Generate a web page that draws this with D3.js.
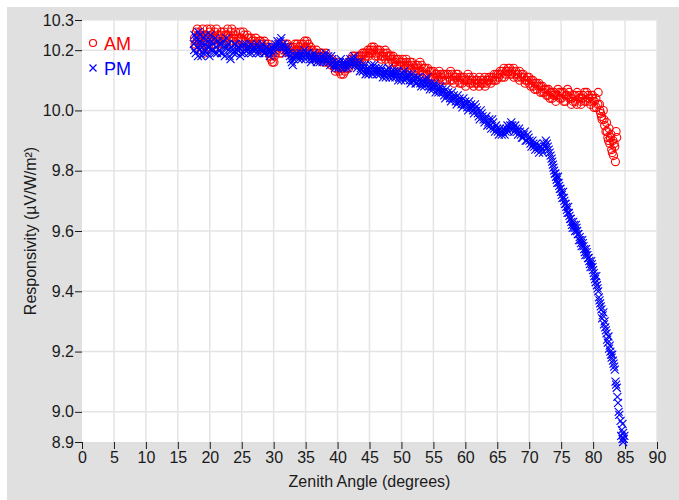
<!DOCTYPE html>
<html lang="en">
<head>
<meta charset="utf-8">
<script src="https://d3js.org/d3.v7.min.js"></script>
<style type="text/css">
body {
	margin: 0;
	background: #fff;
	font-family: "Liberation Sans", Arial, sans-serif;
}
.tick text {
	font-size: 16px;
	fill: #1a1a1a;
}
.tick line {
	stroke: #1a1a1a;
}
</style>
</head>
<body>
<script type="text/javascript">

// zenith angle (degrees), responsivity (uV/W/m2)
var amPoints = [
	[17.6,10.24],[17.7,10.22],[17.9,10.26],[18.0,10.23],[18.2,10.25],[18.4,10.22],[18.5,10.26],[18.7,10.24],
	[18.9,10.27],[19.0,10.23],[19.2,10.19],[19.4,10.25],[19.6,10.27],[19.8,10.24],[20.0,10.26],[20.2,10.23],
	[20.4,10.25],[20.6,10.22],[20.8,10.26],[21.0,10.24],[21.3,10.25],[21.5,10.23],[21.8,10.26],[22.0,10.24],
	[22.3,10.22],[22.5,10.25],[22.8,10.27],[23.0,10.24],[23.3,10.26],[23.6,10.23],[23.9,10.25],[24.2,10.22],
	[24.5,10.24],[24.8,10.26],[25.1,10.23],[25.4,10.25],[25.7,10.22],[26.0,10.24],[26.3,10.21],[26.6,10.23],
	[26.9,10.22],[27.2,10.24],[27.5,10.21],[27.8,10.23],[28.1,10.22],[28.4,10.20],[28.7,10.22],[29.0,10.21],
	[29.3,10.19],[29.6,10.17],[29.8,10.16],[30.1,10.18],[30.4,10.20],[30.7,10.22],[31.0,10.21],[31.3,10.19],
	[31.6,10.21],[31.9,10.20],[32.2,10.22],[32.5,10.21],[32.8,10.19],[33.1,10.21],[33.4,10.20],[33.7,10.22],
	[34.0,10.21],[34.3,10.19],[34.6,10.22],[34.9,10.21],[35.2,10.23],[35.5,10.20],[35.8,10.21],[36.1,10.19],
	[36.4,10.18],[36.7,10.20],[37.0,10.18],[37.3,10.19],[37.6,10.17],[37.9,10.18],[38.2,10.19],[38.5,10.17],
	[38.8,10.16],[39.1,10.17],[39.4,10.15],[39.7,10.14],[40.0,10.16],[40.3,10.13],[40.6,10.14],[40.9,10.12],
	[41.2,10.15],[41.5,10.14],[41.8,10.16],[42.1,10.17],[42.4,10.16],[42.7,10.18],[43.0,10.17],[43.3,10.16],
	[43.6,10.18],[43.9,10.19],[44.2,10.17],[44.5,10.19],[44.8,10.18],[45.1,10.20],[45.4,10.19],[45.7,10.21],
	[46.0,10.19],[46.3,10.18],[46.6,10.20],[46.9,10.18],[47.2,10.19],[47.5,10.17],[47.8,10.19],[48.1,10.18],
	[48.4,10.17],[48.7,10.18],[49.0,10.16],[49.3,10.17],[49.6,10.15],[49.9,10.16],[50.2,10.17],[50.5,10.15],
	[50.8,10.16],[51.1,10.14],[51.4,10.16],[51.7,10.15],[52.0,10.13],[52.3,10.15],[52.6,10.14],[52.9,10.16],
	[53.2,10.13],[53.5,10.14],[53.8,10.12],[54.1,10.14],[54.4,10.13],[54.7,10.11],[55.0,10.13],[55.3,10.12],
	[55.6,10.11],[55.9,10.13],[56.2,10.11],[56.5,10.12],[56.8,10.10],[57.1,10.12],[57.4,10.11],[57.7,10.13],
	[58.0,10.10],[58.3,10.11],[58.6,10.12],[58.9,10.10],[59.2,10.11],[59.5,10.09],[59.8,10.11],[60.1,10.10],
	[60.4,10.12],[60.7,10.09],[61.0,10.10],[61.3,10.08],[61.6,10.10],[61.9,10.09],[62.2,10.11],[62.5,10.09],
	[62.8,10.10],[63.1,10.08],[63.4,10.10],[63.7,10.11],[64.0,10.09],[64.3,10.11],[64.6,10.10],[64.9,10.12],
	[65.2,10.11],[65.5,10.12],[65.8,10.13],[66.1,10.11],[66.4,10.13],[66.7,10.14],[67.0,10.12],[67.3,10.13],
	[67.6,10.11],[67.9,10.13],[68.2,10.12],[68.5,10.10],[68.8,10.12],[69.1,10.11],[69.4,10.10],[69.7,10.11],
	[70.0,10.09],[70.3,10.10],[70.6,10.08],[70.9,10.09],[71.2,10.07],[71.5,10.09],[71.8,10.08],[72.1,10.06],
	[72.4,10.07],[72.7,10.05],[73.0,10.07],[73.3,10.06],[73.6,10.04],[73.9,10.06],[74.2,10.05],[74.5,10.07],
	[74.8,10.04],[75.1,10.06],[75.4,10.03],[75.7,10.05],[76.0,10.07],[76.3,10.04],[76.6,10.02],[76.9,10.05],
	[77.2,10.03],[77.5,10.06],[77.8,10.04],[78.1,10.02],[78.4,10.05],[78.7,10.03],[79.0,10.06],[79.3,10.04],
	[79.6,10.02],[79.9,10.05],[80.2,10.03],[80.5,10.01],[80.8,10.06],[81.0,10.02],[81.2,9.99],[81.4,9.97],
	[81.6,10.00],[81.8,9.95],[82.0,9.93],[82.1,9.96],[82.3,9.91],[82.5,9.94],[82.6,9.89],[82.8,9.92],
	[82.9,9.87],[83.1,9.90],[83.2,9.85],[83.4,9.88],[83.5,9.83],[83.6,9.93],[83.7,9.91]
];

// second pass of AM readings, in between the ones above
var amPointsB = [
	[17.75,10.21],[18.05,10.27],[18.35,10.24],[18.65,10.21],[18.95,10.25],[19.25,10.22],[19.55,10.24],[19.85,10.21],
	[20.15,10.27],[20.45,10.24],[20.75,10.21],[21.05,10.27],[21.35,10.22],[21.65,10.25],[21.95,10.22],[22.25,10.26],
	[22.55,10.23],[22.85,10.25],[23.15,10.22],[23.45,10.27],[23.75,10.24],[24.05,10.26],[24.35,10.23],[24.65,10.21],
	[24.95,10.24],[25.25,10.26],[25.55,10.23],[25.85,10.25],[26.15,10.22],[26.45,10.24],[26.75,10.21],[27.05,10.23],
	[27.35,10.22],[27.65,10.20],[27.95,10.23],[28.25,10.21],[28.55,10.23],[28.85,10.20],[29.15,10.22],[29.45,10.18],
	[29.75,10.20],[30.05,10.16],[30.35,10.19],[30.65,10.21],[30.95,10.19],[31.25,10.22],[31.55,10.20],[31.85,10.22],
	[32.15,10.20],[32.45,10.19],[32.75,10.21],[33.05,10.19],[33.35,10.22],[33.65,10.20],[33.95,10.19],[34.25,10.22],
	[34.55,10.20],[34.85,10.23],[35.15,10.21],[35.45,10.22],[35.75,10.19],[36.05,10.20],[36.35,10.18],[36.65,10.19],
	[36.95,10.17],[37.25,10.18],[37.55,10.19],[37.85,10.16],[38.15,10.18],[38.45,10.16],[38.75,10.17],[39.05,10.15],
	[39.35,10.16],[39.65,10.13],[39.95,10.15],[40.25,10.14],[40.55,10.12],[40.85,10.14],[41.15,10.13],[41.45,10.15],
	[41.75,10.14],[42.05,10.16],[42.35,10.18],[42.65,10.17],[42.95,10.16],[43.25,10.18],[43.55,10.17],[43.85,10.18],
	[44.15,10.19],[44.45,10.18],[44.75,10.20],[45.05,10.19],[45.35,10.21],[45.65,10.20],[45.95,10.18],[46.25,10.20],
	[46.55,10.19],[46.85,10.17],[47.15,10.18],[47.45,10.20],[47.75,10.18],[48.05,10.16],[48.35,10.18],[48.65,10.16],
	[48.95,10.17],[49.25,10.15],[49.55,10.17],[49.85,10.15],[50.15,10.16],[50.45,10.14],[50.75,10.17],[51.05,10.15],
	[51.35,10.14],[51.65,10.16],[51.95,10.14],[52.25,10.13],[52.55,10.15],[52.85,10.13],[53.15,10.15],[53.45,10.12],
	[53.75,10.14],[54.05,10.12],[54.35,10.11],[54.65,10.13],[54.95,10.11],[55.25,10.10],[55.55,10.12],[55.85,10.10],
	[56.15,10.12],[56.45,10.10],[56.75,10.12],[57.05,10.10],[57.35,10.12],[57.65,10.10],[57.95,10.12],[58.25,10.09],
	[58.55,10.11],[58.85,10.12],[59.15,10.09],[59.45,10.11],[59.75,10.10],[60.05,10.08],[60.35,10.10],[60.65,10.11],
	[60.95,10.09],[61.25,10.11],[61.55,10.09],[61.85,10.10],[62.15,10.08],[62.45,10.10],[62.75,10.09],[63.05,10.11],
	[63.35,10.09],[63.65,10.10],[63.95,10.11],[64.25,10.10],[64.55,10.12],[64.85,10.10],[65.15,10.12],[65.45,10.13],
	[65.75,10.11],[66.05,10.14],[66.35,10.12],[66.65,10.13],[66.95,10.14],[67.25,10.12],[67.55,10.14],[67.85,10.12],
	[68.15,10.11],[68.45,10.13],[68.75,10.11],[69.05,10.12],[69.35,10.09],[69.65,10.10],[69.95,10.11],[70.25,10.08],
	[70.55,10.10],[70.85,10.07],[71.15,10.09],[71.45,10.08],[71.75,10.06],[72.05,10.08],[72.35,10.06],[72.65,10.07],
	[72.95,10.05],[73.25,10.04],[73.55,10.06],[73.85,10.05],[74.15,10.03],[74.45,10.05],[74.75,10.06],[75.05,10.04],
	[75.35,10.06],[75.65,10.03],[75.95,10.05],[76.25,10.06],[76.55,10.04],[76.85,10.03],[77.15,10.05],[77.45,10.02],
	[77.75,10.05],[78.05,10.03],[78.35,10.04],[78.65,10.06],[78.95,10.03],[79.25,10.05],[79.55,10.03],[79.85,10.04],
	[80.15,10.01],[80.45,10.04],[80.75,10.02],[81.05,10.00],[81.3,9.98],[81.7,9.97],[82.2,9.93],[82.4,9.90],
	[82.7,9.91],[83.0,9.86],[83.3,9.89]
];

var pmPoints = [
	[17.5,10.22],[17.6,10.25],[17.8,10.19],[17.9,10.23],[18.1,10.21],[18.2,10.26],[18.4,10.20],[18.5,10.23],
	[18.7,10.18],[18.8,10.22],[19.0,10.24],[19.2,10.20],[19.3,10.22],[19.5,10.19],[19.7,10.23],[19.9,10.21],
	[20.1,10.25],[20.3,10.20],[20.5,10.22],[20.8,10.19],[21.0,10.21],[21.3,10.23],[21.5,10.20],[21.8,10.22],
	[22.0,10.19],[22.3,10.21],[22.6,10.24],[22.9,10.20],[23.1,10.18],[23.4,10.21],[23.7,10.19],[24.0,10.22],
	[24.3,10.20],[24.6,10.21],[24.9,10.19],[25.2,10.22],[25.5,10.20],[25.8,10.21],[26.1,10.19],[26.4,10.22],
	[26.7,10.20],[27.0,10.21],[27.3,10.19],[27.6,10.21],[27.9,10.20],[28.2,10.22],[28.5,10.19],[28.8,10.21],
	[29.1,10.20],[29.4,10.18],[29.7,10.21],[30.0,10.20],[30.3,10.22],[30.6,10.23],[30.9,10.21],[31.2,10.24],
	[31.5,10.22],[31.8,10.20],[32.1,10.21],[32.4,10.19],[32.7,10.17],[33.0,10.15],[33.3,10.18],[33.6,10.19],
	[33.9,10.17],[34.2,10.19],[34.5,10.18],[34.8,10.20],[35.1,10.18],[35.4,10.19],[35.7,10.17],[36.0,10.18],
	[36.3,10.19],[36.6,10.17],[36.9,10.18],[37.2,10.16],[37.5,10.18],[37.8,10.17],[38.1,10.19],[38.4,10.17],
	[38.7,10.16],[39.0,10.18],[39.3,10.16],[39.6,10.14],[39.9,10.16],[40.2,10.15],[40.5,10.17],[40.8,10.15],
	[41.1,10.14],[41.4,10.16],[41.7,10.15],[42.0,10.17],[42.3,10.16],[42.6,10.18],[42.9,10.16],[43.2,10.15],
	[43.5,10.13],[43.8,10.15],[44.1,10.14],[44.4,10.12],[44.7,10.14],[45.0,10.13],[45.3,10.15],[45.6,10.13],
	[45.9,10.14],[46.2,10.12],[46.5,10.14],[46.8,10.13],[47.1,10.11],[47.4,10.13],[47.7,10.12],[48.0,10.14],
	[48.3,10.12],[48.6,10.11],[48.9,10.13],[49.2,10.12],[49.5,10.10],[49.8,10.12],[50.1,10.11],[50.4,10.13],
	[50.7,10.11],[51.0,10.12],[51.3,10.10],[51.6,10.12],[51.9,10.11],[52.2,10.09],[52.5,10.11],[52.8,10.10],
	[53.1,10.08],[53.4,10.10],[53.7,10.09],[54.0,10.11],[54.3,10.08],[54.6,10.09],[54.9,10.07],[55.2,10.09],
	[55.5,10.08],[55.8,10.06],[56.1,10.08],[56.4,10.07],[56.7,10.05],[57.0,10.07],[57.3,10.06],[57.6,10.04],
	[57.9,10.06],[58.2,10.05],[58.5,10.03],[58.8,10.05],[59.1,10.04],[59.4,10.02],[59.7,10.04],[60.0,10.03],
	[60.3,10.01],[60.6,10.03],[60.9,10.02],[61.2,10.00],[61.5,10.02],[61.8,10.00],[62.1,9.98],[62.4,10.00],
	[62.7,9.98],[63.0,9.96],[63.3,9.98],[63.6,9.96],[63.9,9.95],[64.2,9.97],[64.5,9.94],[64.8,9.95],
	[65.1,9.93],[65.4,9.94],[65.7,9.92],[66.0,9.94],[66.3,9.93],[66.6,9.95],[66.9,9.94],[67.2,9.96],
	[67.5,9.94],[67.8,9.95],[68.1,9.93],[68.4,9.94],[68.7,9.92],[69.0,9.91],[69.3,9.93],[69.6,9.90],
	[69.9,9.91],[70.2,9.89],[70.5,9.90],[70.8,9.88],[71.1,9.89],[71.4,9.87],[71.7,9.88],[72.0,9.87],
	[72.3,9.89],[72.6,9.90],[72.9,9.88],[73.2,9.86],[73.5,9.84],[73.7,9.82],[73.9,9.80],[74.1,9.79],
	[74.3,9.77],[74.5,9.78],[74.7,9.75],[74.9,9.74],[75.1,9.72],[75.3,9.73],[75.5,9.70],[75.7,9.69],
	[75.9,9.67],[76.1,9.68],[76.3,9.65],[76.5,9.64],[76.7,9.62],[76.9,9.63],[77.1,9.61],[77.3,9.62],
	[77.5,9.60],[77.7,9.59],[77.9,9.58],[78.1,9.56],[78.3,9.57],[78.5,9.55],[78.7,9.53],[78.9,9.54],
	[79.1,9.52],[79.3,9.51],[79.5,9.49],[79.7,9.50],[79.9,9.48],[80.1,9.46],[80.3,9.44],[80.5,9.45],
	[80.6,9.42],[80.8,9.40],[80.9,9.38],[81.1,9.36],[81.3,9.34],[81.4,9.31],[81.6,9.33],[81.8,9.30],
	[81.9,9.28],[82.1,9.26],[82.2,9.24],[82.4,9.25],[82.6,9.22],[82.7,9.20],[82.9,9.18],[83.0,9.19],
	[83.2,9.16],[83.4,9.14],[83.5,9.10],[83.7,9.08],[83.8,9.05],[83.9,9.03],[84.0,9.00],[84.3,8.97],
	[84.6,8.96],[84.5,8.94],[84.7,8.93],[84.4,8.92],[84.8,8.91],[84.6,8.91]
];

// second pass of PM readings
var pmPointsB = [
	[17.55,10.20],[17.85,10.24],[18.15,10.18],[18.45,10.25],[18.75,10.21],[19.05,10.19],[19.35,10.25],[19.65,10.21],
	[19.95,10.18],[20.25,10.23],[20.55,10.20],[20.85,10.24],[21.15,10.19],[21.45,10.22],[21.75,10.19],[22.05,10.23],
	[22.35,10.18],[22.65,10.21],[22.95,10.22],[23.25,10.17],[23.55,10.20],[23.85,10.22],[24.15,10.19],[24.45,10.21],
	[24.75,10.18],[25.05,10.21],[25.35,10.19],[25.65,10.22],[25.95,10.20],[26.25,10.21],[26.55,10.19],[26.85,10.21],
	[27.15,10.20],[27.45,10.22],[27.75,10.19],[28.05,10.21],[28.35,10.20],[28.65,10.19],[28.95,10.21],[29.25,10.19],
	[29.55,10.20],[29.85,10.19],[30.15,10.21],[30.45,10.21],[30.75,10.22],[31.05,10.23],[31.35,10.21],[31.65,10.21],
	[31.95,10.19],[32.25,10.20],[32.55,10.18],[32.85,10.16],[33.15,10.17],[33.45,10.18],[33.75,10.18],[34.05,10.18],
	[34.35,10.17],[34.65,10.19],[34.95,10.17],[35.25,10.19],[35.55,10.18],[35.85,10.16],[36.15,10.17],[36.45,10.18],
	[36.75,10.16],[37.05,10.17],[37.35,10.17],[37.65,10.16],[37.95,10.18],[38.25,10.16],[38.55,10.18],[38.85,10.15],
	[39.15,10.17],[39.45,10.15],[39.75,10.15],[40.05,10.14],[40.35,10.16],[40.65,10.14],[40.95,10.16],[41.25,10.15],
	[41.55,10.14],[41.85,10.16],[42.15,10.15],[42.45,10.17],[42.75,10.15],[43.05,10.14],[43.35,10.16],[43.65,10.14],
	[43.95,10.13],[44.25,10.15],[44.55,10.13],[44.85,10.12],[45.15,10.14],[45.45,10.12],[45.75,10.15],[46.05,10.13],
	[46.35,10.13],[46.65,10.12],[46.95,10.14],[47.25,10.12],[47.55,10.11],[47.85,10.13],[48.15,10.11],[48.45,10.13],
	[48.75,10.12],[49.05,10.11],[49.35,10.13],[49.65,10.11],[49.95,10.10],[50.25,10.12],[50.55,10.10],[50.85,10.11],
	[51.15,10.11],[51.45,10.09],[51.75,10.10],[52.05,10.10],[52.35,10.09],[52.65,10.11],[52.95,10.09],[53.25,10.09],
	[53.55,10.08],[53.85,10.10],[54.15,10.09],[54.45,10.07],[54.75,10.08],[55.05,10.08],[55.35,10.06],[55.65,10.07],
	[55.95,10.07],[56.25,10.06],[56.55,10.06],[56.85,10.04],[57.15,10.05],[57.45,10.05],[57.75,10.03],[58.05,10.04],
	[58.35,10.04],[58.65,10.02],[58.95,10.03],[59.25,10.03],[59.55,10.01],[59.85,10.02],[60.15,10.02],[60.45,10.00],
	[60.75,10.01],[61.05,10.01],[61.35,9.99],[61.65,10.01],[61.95,9.99],[62.25,9.97],[62.55,9.99],[62.85,9.97],
	[63.15,9.97],[63.45,9.95],[63.75,9.97],[64.05,9.94],[64.35,9.96],[64.65,9.93],[64.95,9.94],[65.25,9.92],
	[65.55,9.93],[65.85,9.93],[66.15,9.92],[66.45,9.94],[66.75,9.93],[67.05,9.95],[67.35,9.95],[67.65,9.93],
	[67.95,9.94],[68.25,9.92],[68.55,9.93],[68.85,9.91],[69.15,9.92],[69.45,9.90],[69.75,9.92],[70.05,9.90],
	[70.35,9.88],[70.65,9.89],[70.95,9.87],[71.25,9.88],[71.55,9.86],[71.85,9.88],[72.15,9.86],[72.45,9.88],
	[72.75,9.89],[73.05,9.87],[73.35,9.85],[73.6,9.83],[73.8,9.81],[74.0,9.79],[74.2,9.78],[74.4,9.76],
	[74.6,9.76],[74.8,9.74],[75.0,9.73],[75.2,9.71],[75.4,9.71],[75.6,9.69],[75.8,9.68],[76.0,9.66],
	[76.2,9.66],[76.4,9.64],[76.6,9.63],[76.8,9.61],[77.0,9.62],[77.2,9.60],[77.4,9.61],[77.6,9.59],
	[77.8,9.57],[78.0,9.57],[78.2,9.55],[78.4,9.56],[78.6,9.54],[78.8,9.52],[79.0,9.53],[79.2,9.51],
	[79.4,9.50],[79.6,9.48],[79.8,9.49],[80.0,9.47],[80.2,9.45],[80.4,9.43],[80.7,9.41],[81.0,9.37],
	[81.2,9.35],[81.5,9.32],[81.7,9.29],[82.0,9.27],[82.3,9.23],[82.5,9.21],[82.8,9.19],[83.1,9.17],
	[83.3,9.15],[83.6,9.09],[84.1,8.99],[84.9,8.92],[84.7,8.90]
];

var xTicks = [0, 5, 10, 15, 20, 25, 30, 35, 40, 45, 50, 55, 60, 65, 70, 75, 80, 85, 90];
var yTicks = [8.9, 9.0, 9.2, 9.4, 9.6, 9.8, 10.0, 10.2, 10.3];
var seriesNames = ["AM", "PM"];
var seriesColors = ["#ff0000", "#0000ff"];

var width = 679;
var height = 500;
var margin = {top: 20, right: 22, bottom: 58, left: 82};

var svg = d3.select("body")
	.append("svg")
	.attr("width", width)
	.attr("height", height);

// grey panel
svg.append("rect")
	.attr("x", 7)
	.attr("y", 7)
	.attr("width", width - 7)
	.attr("height", height - 7)
	.style("fill", "#e0e0e0");

var x = d3.scaleLinear()
	.domain([0, 90])
	.range([margin.left, width - margin.right]);

var y = d3.scaleLinear()
	.domain([8.9, 10.3])
	.range([height - margin.bottom, margin.top]);

svg.append("rect")
	.attr("x", x(0))
	.attr("y", y(10.3))
	.attr("width", x(90) - x(0))
	.attr("height", y(8.9) - y(10.3))
	.style("fill", "#fff");

// grid
svg.append("g")
	.selectAll("line")
	.data(xTicks.slice(1))
	.enter()
	.append("line")
	.attr("x1", function(d) { return x(d); })
	.attr("x2", function(d) { return x(d); })
	.attr("y1", y(10.3))
	.attr("y2", y(8.9))
	.style("stroke", "#e4e4e4")
	.style("stroke-width", 1.5);

svg.append("g")
	.selectAll("line")
	.data(yTicks.slice(1))
	.enter()
	.append("line")
	.attr("x1", x(0))
	.attr("x2", x(90))
	.attr("y1", function(d) { return y(d); })
	.attr("y2", function(d) { return y(d); })
	.style("stroke", "#e4e4e4")
	.style("stroke-width", 1.5);

// axes
var xAxis = svg.append("g")
	.attr("transform", "translate(0," + y(8.9) + ")")
	.call(d3.axisBottom(x).tickValues(xTicks).tickSize(7).tickPadding(3));
xAxis.select(".domain").remove();

var yAxis = svg.append("g")
	.attr("transform", "translate(" + x(0) + ",0)")
	.call(d3.axisLeft(y).tickValues(yTicks).tickFormat(d3.format(".1f")).tickSize(7).tickPadding(1));
yAxis.select(".domain").remove();

svg.selectAll(".tick text").style("font-family", "'Liberation Sans', Arial, sans-serif");

svg.append("text")
	.attr("x", (x(0) + x(90)) / 2)
	.attr("y", 487)
	.attr("text-anchor", "middle")
	.style("font-size", "16px")
	.style("fill", "#1a1a1a")
	.text("Zenith Angle (degrees)");

svg.append("text")
	.attr("transform", "translate(36," + (y(8.9) + y(10.3)) / 2 + ") rotate(-90)")
	.attr("text-anchor", "middle")
	.style("font-size", "16px")
	.style("fill", "#1a1a1a")
	.text("Responsivity (µV/W/m²)");

// AM circles
svg.append("g")
	.selectAll("circle")
	.data(amPoints.concat(amPointsB))
	.enter()
	.append("circle")
	.attr("cx", function(d) { return x(d[0]); })
	.attr("cy", function(d) { return y(d[1]); })
	.attr("r", 4)
	.style("fill", "none")
	.style("stroke", seriesColors[0])
	.style("stroke-width", 1.1);

// PM crosses
function crossPath(cx, cy, s) {
	return "M" + (cx - s) + "," + (cy - s) + "L" + (cx + s) + "," + (cy + s) +
		"M" + (cx - s) + "," + (cy + s) + "L" + (cx + s) + "," + (cy - s);
}

svg.append("g")
	.selectAll("path")
	.data(pmPoints.concat(pmPointsB))
	.enter()
	.append("path")
	.attr("d", function(d) { return crossPath(x(d[0]), y(d[1]), 4); })
	.style("fill", "none")
	.style("stroke", seriesColors[1])
	.style("stroke-width", 1.1);

// legend
var legend = svg.append("g")
	.selectAll("g")
	.data(seriesNames)
	.enter()
	.append("g")
	.attr("transform", function(d, i) { return "translate(93," + (43 + i * 25) + ")"; });

legend.each(function(d, i) {
	var g = d3.select(this);
	if (i == 0) {
		g.append("circle")
			.attr("r", 3.5)
			.style("fill", "none")
			.style("stroke", seriesColors[0])
			.style("stroke-width", 1.2);
	} else {
		g.append("path")
			.attr("d", crossPath(0, 0, 3.5))
			.style("fill", "none")
			.style("stroke", seriesColors[1])
			.style("stroke-width", 1.2);
	}
	g.append("text")
		.attr("x", 11)
		.attr("y", 7)
		.style("font-size", "18px")
		.style("fill", seriesColors[i])
		.text(d);
});

</script>
</body>
</html>
